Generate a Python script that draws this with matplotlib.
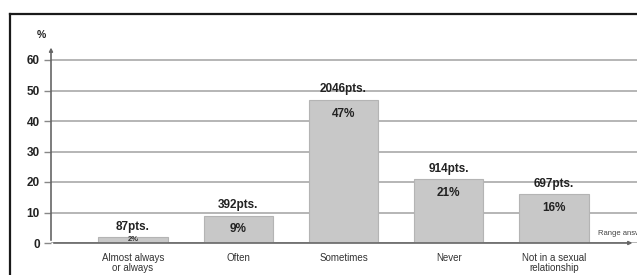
import matplotlib
matplotlib.use("Agg")
import matplotlib.pyplot as plt
from matplotlib.lines import Line2D

categories = ["Almost always\nor always", "Often", "Sometimes", "Never", "Not in a sexual\nrelationship"]
percent = [2, 9, 47, 21, 16]
points = [87, 392, 2046, 914, 697]
yticks = [0, 10, 20, 30, 40, 50, 60]

plt.rcParams['font.family'] = ['Liberation Sans', 'DejaVu Sans']

W, H = 637, 275
fig = plt.figure(figsize=(W / 100, H / 100), dpi=100)
fig.patch.set_facecolor("white")

# frame lines
fig.add_artist(Line2D([9.5 / W, 1.0], [1 - 13.5 / H, 1 - 13.5 / H], transform=fig.transFigure, color="#1a1a1a", lw=1.6))
fig.add_artist(Line2D([9.5 / W, 9.5 / W], [0, 1 - 13.5 / H], transform=fig.transFigure, color="#1a1a1a", lw=1.6))

ax_left = 51 / W
ax_bottom = (H - 243) / H
ax_top = (H - 44.75) / H
ax = fig.add_axes([ax_left, ax_bottom, 1 - ax_left, ax_top - ax_bottom])
ax.set_xlim(-0.78, 4.79)
ax.set_ylim(0, 65)
ax.set_facecolor("none")

for s in ax.spines.values():
    s.set_visible(False)

ax.set_yticks(yticks)
ax.set_yticklabels([str(v) for v in yticks], fontsize=8.5, fontweight="bold", color="#222222")
ax.tick_params(axis="y", length=5, width=1, color="#888888", pad=3)
ax.yaxis.grid(True, color="#b0b0b0", lw=1.3)
ax.set_axisbelow(True)

x = list(range(len(categories)))
ax.set_xticks(x)
ax.set_xticklabels(categories, fontsize=7, color="#333333", linespacing=1.0)
ax.tick_params(axis="x", length=0, pad=7)

bars = ax.bar(x, percent, width=0.66, color="#c8c8c8", edgecolor="#b4b4b4", lw=0.8, zorder=3)

# axes arrows
ax.annotate("", xy=(0, 1.0), xycoords="axes fraction", xytext=(0, 0), textcoords="axes fraction",
            arrowprops=dict(arrowstyle="-|>", color="#666666", lw=1.2, mutation_scale=5), zorder=4)
ax.annotate("", xy=(0.997, 0), xycoords="axes fraction", xytext=(0, 0), textcoords="axes fraction",
            arrowprops=dict(arrowstyle="-|>", color="#666666", lw=1.2, mutation_scale=5), zorder=4)

ax.annotate("%", xy=(0, 1.0), xycoords="axes fraction", xytext=(-7, 7), textcoords="offset points",
            fontsize=7.5, fontweight="bold", color="#222222", ha="center", va="center")

for xi, p, pts in zip(x, percent, points):
    ax.annotate(f"{pts}pts.", xy=(xi, p), xytext=(0, 3), textcoords="offset points",
                ha="center", va="bottom", fontsize=8.5, fontweight="bold", color="#222222", zorder=5)
    if p >= 5:
        ax.annotate(f"{p}%", xy=(xi, p), xytext=(0, -10), textcoords="offset points",
                    ha="center", va="center", fontsize=8.5, fontweight="bold", color="#222222", zorder=5)
    else:
        ax.annotate(f"{p}%", xy=(xi, p / 2), ha="center", va="center", fontsize=5.5,
                    fontweight="bold", color="#333333", zorder=5)

ax.text(4.42, 3.2, "Range answers", fontsize=5.5, color="#444444", ha="left", va="center", clip_on=True)

fig.savefig("out.png", dpi=100, facecolor="white")
